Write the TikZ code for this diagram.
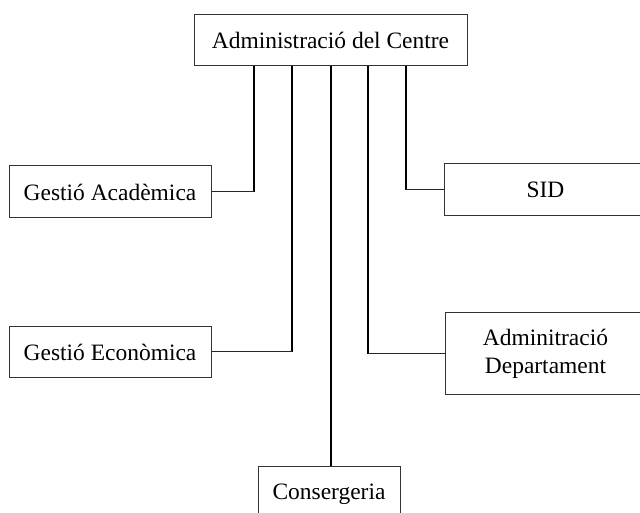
\documentclass[tikz,border=0pt]{standalone}
\usepackage{fontspec}
\setmainfont{Liberation Serif}
\begin{document}
\begin{tikzpicture}[x=0.75pt,y=-0.75pt,
  box/.style={draw=black!80, line width=0.75pt, inner sep=0pt, align=center,
    font=\fontsize{17.6}{21}\selectfont},
  trunk/.style={line width=1.5pt, black},
  branch/.style={line width=0.75pt, black!85}]
\useasboundingbox (0,0) rectangle (640,513);
\node[box, minimum width=273*0.75pt, minimum height=51*0.75pt] (top) at (330.5,40.5) {Administració del Centre};
\node[box, minimum width=202*0.75pt, minimum height=52*0.75pt] (ga) at (110,192) {Gestió Acadèmica};
\node[box, minimum width=202*0.75pt, minimum height=51*0.75pt] (ge) at (110,352) {Gestió Econòmica};
\node[box, minimum width=203*0.75pt, minimum height=52*0.75pt] (sid) at (545.5,190) {SID};
\node[box, minimum width=201*0.75pt, minimum height=82*0.75pt] (ad) at (545.5,354) {Adminitració\\Departament};
\node[box, minimum width=142*0.75pt, minimum height=54*0.75pt] (co) at (329,494) {Consergeria};
% trunks
\draw[trunk] (top.south -| 254,0) -- (ga.east -| 254,0);
\draw[trunk] (top.south -| 292,0) -- (ge.east -| 292,0);
\draw[trunk] (top.south -| 331,0) -- (co.north -| 331,0);
\draw[trunk] (top.south -| 368,0) -- (ad.west -| 368,0);
\draw[trunk] (top.south -| 406,0) -- (sid.west -| 406,0);
% branches
\draw[branch] (ga.east -| 254,0) -- (ga.east);
\draw[branch] (ge.east -| 292,0) -- (ge.east);
\draw[branch] (ad.west -| 368,0) -- (ad.west);
\draw[branch] (sid.west -| 406,0) -- (sid.west);
\end{tikzpicture}
\end{document}
